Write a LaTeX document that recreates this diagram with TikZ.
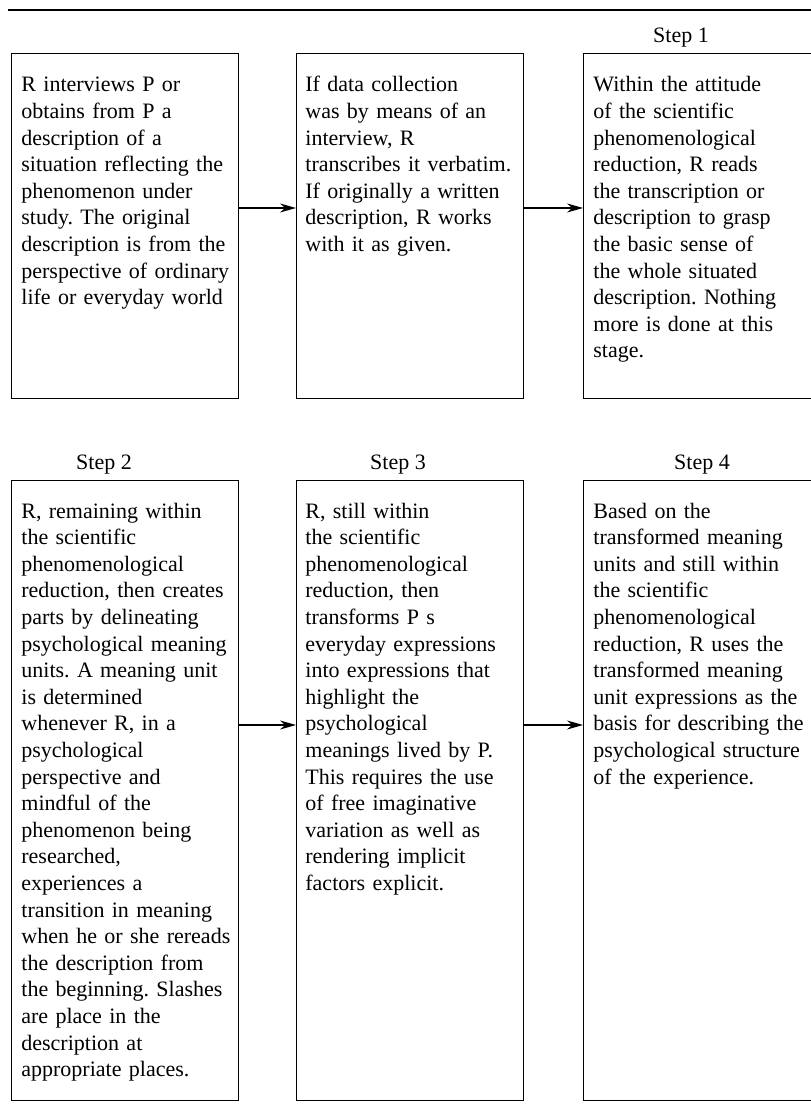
\documentclass[tikz,border=0pt]{standalone}
\usepackage{fontspec}
\setmainfont{Liberation Serif}
\usetikzlibrary{arrows.meta}
\frenchspacing

\tikzset{
	stepbox/.style={draw, line width=0.6pt, inner sep=0pt, anchor=north west},
	steptext/.style={anchor=base west, inner sep=0pt, text width=110pt, align=left, font=\fontsize{11}{13.3}\selectfont},
	steplabel/.style={anchor=base, inner sep=0pt, font=\fontsize{11}{13.3}\selectfont},
	flow/.style={-{Stealth[length=8pt,width=4.5pt]}, line width=0.6pt},
}

\begin{document}
\begin{tikzpicture}[x=0.5pt, y=-0.5pt]

\useasboundingbox (0,0) rectangle (810,1111);

\draw[line width=0.9pt] (8,10) -- (815,10);

% boxes, top row then bottom row (right column runs off the page)
\foreach \name/\x/\y/\w/\h in {a1/11/53/113.5pt/172.5pt, a2/296/53/113.5pt/172.5pt, a3/583/53/118pt/172.5pt,
                               b1/11/480/113.5pt/310pt, b2/296/480/113.5pt/310pt, b3/583/480/118pt/310pt}
{
	\node[stepbox, minimum width=\w, minimum height=\h] (\name) at (\x,\y) {};
}

\node[steplabel] (s1) at (681,43) {Step 1};
\node[steplabel] (s2) at (104,470) {Step 2};
\node[steplabel] (s3) at (398,470) {Step 3};
\node[steplabel] (s4) at (702,470) {Step 4};

\node[steptext] (ta1) at (21,92) {R interviews P or\\
obtains from P a\\
description of a\\
situation reflecting the\\
phenomenon under\\
study. The original\\
description is from the\\
perspective of ordinary\\
life or everyday world};

\node[steptext] (ta2) at (305,92) {If data collection\\
was by means of an\\
interview, R\\
transcribes it verbatim.\\
If originally a written\\
description, R works\\
with it as given.};

\node[steptext] (ta3) at (593,92) {Within the attitude\\
of the scientific\\
phenomenological\\
reduction, R reads\\
the transcription or\\
description to grasp\\
the basic sense of\\
the whole situated\\
description. Nothing\\
more is done at this\\
stage.};

\node[steptext] (tb1) at (21,518) {R, remaining within\\
the scientific\\
phenomenological\\
reduction, then creates\\
parts by delineating\\
psychological meaning\\
units. A meaning unit\\
is determined\\
whenever R, in a\\
psychological\\
perspective and\\
mindful of the\\
phenomenon being\\
researched,\\
experiences a\\
transition in meaning\\
when he or she rereads\\
the description from\\
the beginning. Slashes\\
are place in the\\
description at\\
appropriate places.};

\node[steptext] (tb2) at (305,518) {R, still within\\
the scientific\\
phenomenological\\
reduction, then\\
transforms P s\\
everyday expressions\\
into expressions that\\
highlight the\\
psychological\\
meanings lived by P.\\
This requires the use\\
of free imaginative\\
variation as well as\\
rendering implicit\\
factors explicit.};

\node[steptext] (tb3) at (593,518) {Based on the\\
transformed meaning\\
units and still within\\
the scientific\\
phenomenological\\
reduction, R uses the\\
transformed meaning\\
unit expressions as the\\
basis for describing the\\
psychological structure\\
of the experience.};

% arrows
\coordinate (ra) at (0,208);
\coordinate (rb) at (0,725);

\draw[flow] (a1.east |- ra) -- (a2.west |- ra);
\draw[flow] (a2.east |- ra) -- (a3.west |- ra);
\draw[flow] (b1.east |- rb) -- (b2.west |- rb);
\draw[flow] (b2.east |- rb) -- (b3.west |- rb);

\end{tikzpicture}
\end{document}
